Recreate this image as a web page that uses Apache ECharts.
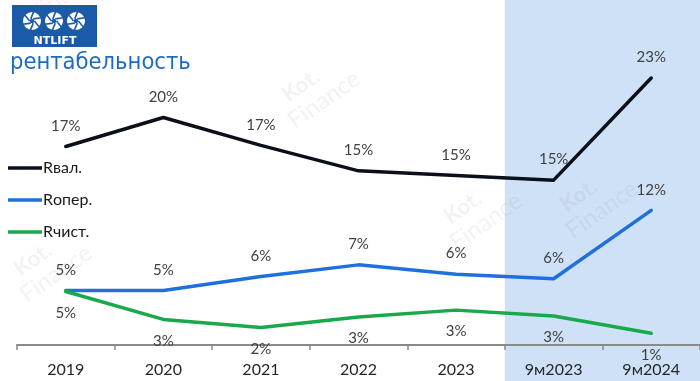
<!DOCTYPE html>
<html>
<head>
<meta charset="utf-8">
<script src="https://cdn.jsdelivr.net/npm/echarts@6/dist/echarts.min.js"></script>
<style>
html,body{margin:0;padding:0;background:#fff;}
#chart{width:700px;height:381px;}
</style>
</head>
<body>
<div id="chart"></div>
<script>
// ---- data ----
const categories = ['2019', '2020', '2021', '2022', '2023', '9м2023', '9м2024'];
const seriesNames = ['Rвал.', 'Rопер.', 'Rчист.'];
const rVal   = [17.1, 19.6, 17.2, 15.0, 14.6, 14.2, 23.0];
const rOper  = [4.7, 4.7, 5.9, 6.9, 6.1, 5.7, 11.6];
const rChist = [4.6, 2.2, 1.5, 2.4, 3.0, 2.5, 1.0];
const lblVal   = ['17%', '20%', '17%', '15%', '15%', '15%', '23%'];
const lblOper  = ['5%', '5%', '6%', '7%', '6%', '6%', '12%'];
const lblChist = ['5%', '3%', '2%', '3%', '3%', '3%', '1%'];
const shadedFrom = '9м2023';

const chart = echarts.init(document.getElementById('chart'));
const FONT = 'Lato';
const labelStyle = (arr, pos, dist) => ({
  show: true, position: pos, distance: dist,
  fontFamily: FONT, fontSize: 15, color: '#404040',
  formatter: p => arr[p.dataIndex]
});
const mkLine = (name, data, color, lbl, pos, dist) => ({
  name, type: 'line', data, symbol: 'circle', symbolSize: 0, showSymbol: true, z: 3,
  lineStyle: { color, width: 3.5, cap: 'round', join: 'round' },
  itemStyle: { color },
  label: labelStyle(lbl, pos, dist)
});

chart.setOption({
  animation: false,
  backgroundColor: '#ffffff',
  grid: { left: 17, right: -3, top: 20, bottom: 32, containLabel: false },
  legend: {
    orient: 'vertical', left: 8, top: 159, itemGap: 14, padding: 0,
    icon: 'rect', itemWidth: 34, itemHeight: 3.5,
    textStyle: { fontFamily: FONT, fontSize: 16, color: '#1a1a1a', lineHeight: 18, padding: [0, 0, 0, -4] },
    data: seriesNames
  },
  xAxis: {
    type: 'category', data: categories, boundaryGap: true,
    axisLine: { lineStyle: { color: '#8a8a8a', width: 2 } },
    axisTick: { show: true, length: 5, lineStyle: { color: '#8a8a8a', width: 1.5 } },
    axisLabel: { fontFamily: FONT, fontSize: 16, color: '#262626', margin: 13 },
    splitLine: { show: false }
  },
  yAxis: { type: 'value', min: -0.35, max: 28, show: false, splitLine: { show: false } },
  series: [
    mkLine(seriesNames[0], rVal, '#0b0f1a', lblVal, 'top', 13),
    mkLine(seriesNames[1], rOper, '#1f70dc', lblOper, 'top', 13),
    mkLine(seriesNames[2], rChist, '#19a84a', lblChist, 'bottom', 14)
  ]
});

// shaded region & decorations
const c1 = chart.convertToPixel({ xAxisIndex: 0 }, shadedFrom);
const c2 = chart.convertToPixel({ xAxisIndex: 0 }, categories[categories.length - 1]);
const band = c2 - c1;
const shadeX = c1 - band / 2;

const wmColor = 'rgba(150,150,150,0.12)';
const wm = (x, y) => ({
  type: 'group', x, y, rotation: Math.PI * 35 / 180, z: -5, silent: true,
  children: [
    { type: 'text', style: { text: 'Kot.', x: 0, y: 0, font: 'bold 22px Lato', fill: wmColor } },
    { type: 'text', style: { text: 'Finance', x: -10, y: 24, font: '24px Lato', fill: wmColor } }
  ]
});

const fan = (cx, cy) => {
  const blades = [];
  for (let i = 0; i < 6; i++) {
    const a = i * Math.PI / 3;
    blades.push({
      type: 'line',
      shape: { x1: cx + 2.5 * Math.cos(a), y1: cy + 2.5 * Math.sin(a), x2: cx + 9.5 * Math.cos(a + 0.7), y2: cy + 9.5 * Math.sin(a + 0.7) },
      style: { stroke: '#1b5aa6', lineWidth: 1.6 }
    });
  }
  return [
    { type: 'circle', shape: { cx, cy, r: 9 }, style: { fill: '#ffffff' } },
    ...blades,
    { type: 'circle', shape: { cx, cy, r: 2.2 }, style: { fill: '#1b5aa6' } }
  ];
};

chart.setOption({
  graphic: [
    { type: 'rect', z: -10, silent: true, shape: { x: shadeX, y: 0, width: 700 - shadeX + 10, height: 381 }, style: { fill: '#cfe1f6' } },
    wm(278, 88), wm(556, 198), wm(10, 262), wm(20, -18), wm(440, 210),
    { type: 'group', z: 10, children: [
      { type: 'rect', shape: { x: 12, y: 5, width: 85, height: 42 }, style: { fill: '#1b5aa6' } },
      ...fan(32, 21), ...fan(54, 21), ...fan(76, 21),
      { type: 'text', style: { text: 'NTLIFT', x: 55, y: 41, align: 'center', verticalAlign: 'middle', font: 'bold 11px "DejaVu Sans"', fill: '#ffffff' } },
      { type: 'text', style: { text: 'рентабельность', x: 10, y: 63, verticalAlign: 'middle', font: '23.5px "DejaVu Sans Condensed"', fill: '#1d6cc0' } }
    ] }
  ]
});
</script>
</body>
</html>
